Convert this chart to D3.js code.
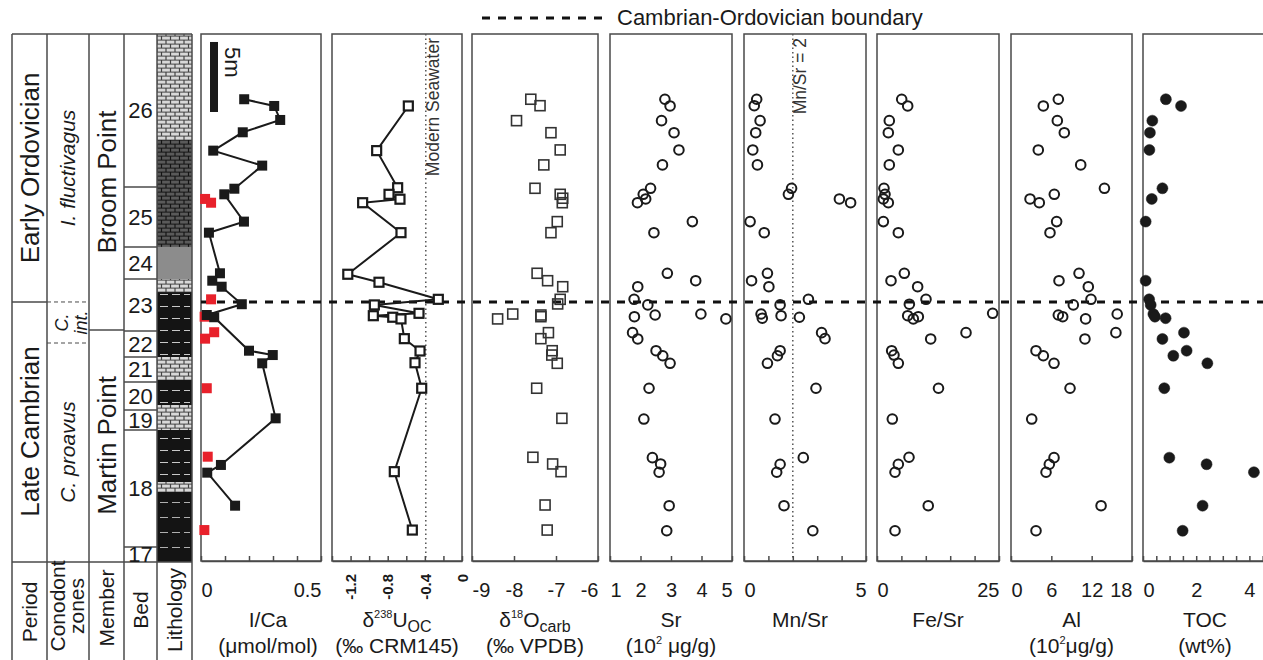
<!DOCTYPE html>
<html>
  <head>
    <meta charset="utf-8">
    <title></title>
    <style>
      body, html{
        margin: 0;
        background: #fff;
      }
      svg text{
        font-family: "Liberation Sans", Arial, sans-serif;
        fill: #1a1a1a;
      }
    </style>
  </head>
  <body>
    <svg id="chart" width="1263" height="660"></svg>
    <script src="https://cdnjs.cloudflare.com/ajax/libs/d3/7.8.5/d3.min.js" charset="utf-8"></script>
    <script>
      // heights are metres above the base of the logged section
      var sectionTop = 37.64
      var boundaryHeight = 18.5
      var scaleBarTop = 37.07

      var periodNames = ['Late Cambrian', 'Early Ordovician']
      var periodTops = [18.5, 37.64]
      var zoneNames = [['C. proavus'], ['C.', 'int.'], ['I. fluctivagus']]
      var zoneTops = [15.57, 18.5, 37.64]
      var memberNames = ['Martin Point', 'Broom Point']
      var memberTops = [16.5, 37.64]
      var bedNames = ['17', '18', '19', '20', '21', '22', '23', '24', '25', '26']
      var bedTops = [1.0, 9.36, 10.79, 12.79, 14.57, 16.43, 20.14, 22.43, 26.71, 37.64]
      var lithTypes = ['shale', 'lime', 'ribbon', 'lime', 'ribbon', 'lime', 'ribbon', 'lime', 'mud', 'darklime', 'lime']
      var lithTops = [4.93, 5.64, 9.36, 11.14, 12.93, 14.57, 19.21, 20.14, 22.43, 30.07, 37.64]

      var icaHeights = [32.98, 32.5, 31.5, 30.62, 29.31, 28.24, 26.59, 26.19, 24.24, 23.45, 20.55, 20.02, 19.59, 18.34, 17.57, 17.41, 15.02, 14.71, 14.12, 10.19, 6.86, 6.31, 3.95]
      var icaValues = [0.18, 0.305, 0.33, 0.174, 0.051, 0.255, 0.139, 0.097, 0.179, 0.033, 0.079, 0.047, 0.086, 0.17, 0.024, 0.055, 0.2, 0.299, 0.255, 0.311, 0.083, 0.026, 0.142]
      var icaRedHeights = [25.86, 25.59, 18.69, 17.45, 16.34, 15.88, 12.34, 7.45, 2.21]
      var icaRedValues = [0.017, 0.042, 0.042, 0.015, 0.055, 0.017, 0.024, 0.028, 0.014]

      var uHeights = [32.5, 29.31, 26.66, 26.19, 25.84, 25.59, 23.45, 20.48, 19.91, 18.69, 18.29, 17.69, 17.52, 17.41, 17.29, 15.88, 15.0, 14.16, 12.34, 6.38, 2.21]
      var uValues = [-0.578, -0.919, -0.693, -0.786, -0.668, -1.07, -0.657, -1.23, -0.894, -0.255, -0.944, -0.463, -0.955, -0.746, -0.657, -0.621, -0.452, -0.506, -0.434, -0.729, -0.535]
      var modernSeawater = -0.39

      var oHeights = [32.98, 32.52, 31.45, 30.59, 29.36, 28.29, 26.62, 26.19, 25.91, 25.59, 24.24, 23.45, 20.55, 20.02, 19.59, 18.69, 18.36, 17.64, 17.29, 17.57, 17.45, 16.31, 15.88, 15.02, 14.71, 14.12, 12.34, 10.19, 7.41, 6.93, 6.38, 4.0, 2.21]
      var oValues = [-7.60, -7.38, -7.94, -7.12, -6.90, -7.29, -7.50, -6.90, -6.84, -6.85, -6.97, -7.12, -7.45, -7.20, -6.84, -6.90, -6.96, -8.03, -8.39, -7.36, -7.36, -7.18, -7.36, -7.09, -7.10, -6.97, -7.46, -6.86, -7.55, -7.08, -6.88, -7.26, -7.21]

      var srHeights = [32.98, 32.5, 31.45, 30.59, 29.36, 28.29, 26.62, 26.19, 25.86, 25.59, 24.24, 23.45, 20.55, 20.02, 19.59, 18.69, 18.29, 17.45, 17.57, 17.64, 17.29, 16.31, 15.86, 15.02, 14.66, 14.12, 12.34, 10.14, 7.38, 6.93, 6.34, 3.95, 2.16]
      var srValues = [2.80, 2.97, 2.69, 3.10, 3.26, 2.72, 2.33, 2.09, 2.17, 1.90, 3.70, 2.44, 2.88, 3.81, 1.91, 1.79, 2.24, 1.80, 2.48, 3.98, 4.80, 1.74, 1.91, 2.51, 2.73, 2.97, 2.28, 2.11, 2.39, 2.66, 2.61, 2.94, 2.86]

      var mnHeights = [32.98, 32.52, 31.45, 30.59, 29.36, 28.29, 26.62, 26.19, 25.86, 25.59, 24.24, 23.45, 20.55, 20.02, 19.59, 18.69, 18.29, 17.64, 17.34, 17.52, 17.41, 16.31, 15.88, 15.02, 14.66, 14.12, 12.34, 10.14, 7.38, 6.91, 6.34, 3.95, 2.16]
      var mnValues = [0.52, 0.42, 0.66, 0.48, 0.36, 0.55, 1.95, 1.82, 3.91, 4.37, 0.25, 0.83, 0.96, 0.31, 1.02, 2.64, 1.48, 0.70, 0.75, 1.52, 2.27, 3.18, 3.32, 1.48, 1.37, 0.96, 2.95, 1.27, 2.43, 1.48, 1.34, 1.64, 2.82]
      var mnLimit = 2

      var feHeights = [32.98, 32.5, 31.45, 30.59, 29.36, 28.29, 26.62, 26.19, 25.86, 25.59, 24.24, 23.45, 20.55, 20.02, 19.59, 18.69, 18.34, 17.52, 17.29, 17.45, 17.69, 16.31, 15.86, 15.02, 14.71, 14.12, 12.34, 10.14, 7.41, 6.91, 6.34, 3.95, 2.16]
      var feValues = [5.06, 6.29, 2.52, 2.32, 4.37, 2.52, 1.43, 1.64, 1.30, 2.32, 1.30, 4.37, 5.60, 2.87, 8.33, 10.04, 6.63, 6.29, 7.44, 8.47, 23.7, 18.24, 11.0, 3.01, 3.48, 4.37, 12.6, 3.14, 6.56, 4.37, 3.69, 10.5, 3.69]

      var alHeights = [32.98, 32.5, 31.45, 30.59, 29.36, 28.29, 26.62, 26.19, 25.86, 25.59, 24.24, 23.45, 20.55, 20.02, 19.59, 18.69, 18.29, 17.57, 17.45, 17.29, 17.64, 16.31, 15.86, 15.02, 14.66, 14.12, 12.34, 10.14, 7.38, 6.91, 6.34, 3.95, 2.16]
      var alValues = [7.04, 4.81, 6.89, 7.93, 4.06, 10.37, 13.9, 6.44, 2.83, 4.21, 6.79, 5.80, 10.12, 7.14, 11.5, 11.9, 9.27, 7.04, 7.69, 11.1, 15.8, 15.6, 11.0, 3.72, 4.81, 6.40, 8.78, 3.08, 6.40, 5.70, 5.21, 13.4, 3.72]

      var tocHeights = [32.98, 32.5, 31.45, 30.59, 29.36, 26.62, 25.86, 24.24, 20.02, 18.69, 18.29, 17.64, 17.45, 17.34, 16.31, 15.86, 15.02, 14.66, 14.12, 12.34, 7.38, 6.91, 6.34, 3.95, 2.16]
      var tocValues = [0.86, 1.43, 0.35, 0.26, 0.24, 0.73, 0.33, 0.10, 0.10, 0.23, 0.29, 0.39, 0.45, 0.85, 1.54, 0.73, 1.64, 1.14, 2.42, 0.80, 0.99, 2.39, 4.17, 2.24, 1.49]

      var panels = [
        {kind: 'ica', x0: 201, x1: 321, domain: [0, 0.5], step: 0.1, labels: [0, 0.5],
          title: [[['I/Ca']], [['(μmol/mol)']]], titleX: 268},
        {kind: 'u', x0: 332, x1: 462, domain: [-1.4, 0], step: 0.2, labels: [-1.2, -0.8, -0.4, 0],
          h: uHeights, v: uValues, title: [[['δ'], ['238', 'sup'], ['U'], ['OC', 'sub']], [['(‰ CRM145)']]]},
        {kind: 'osq', x0: 472, x1: 598, domain: [-9, -6], step: 1, labels: [-9, -8, -7, -6],
          h: oHeights, v: oValues, title: [[['δ'], ['18', 'sup'], ['O'], ['carb', 'sub']], [['(‰ VPDB)']]]},
        {kind: 'circle', x0: 610, x1: 732, domain: [1, 5], step: 1, labels: [1, 2, 3, 4, 5],
          h: srHeights, v: srValues, title: [[['Sr']], [['(10'], ['2', 'sup'], [' μg/g)']]]},
        {kind: 'circle', x0: 744, x1: 866, domain: [0, 5], step: 1, labels: [0, 5],
          h: mnHeights, v: mnValues, title: [[['Mn/Sr']]], titleX: 800},
        {kind: 'circle', x0: 877, x1: 999, domain: [0, 25], step: 5, labels: [0, 25],
          h: feHeights, v: feValues, title: [[['Fe/Sr']]]},
        {kind: 'circle', x0: 1011, x1: 1132, domain: [0, 18], step: 6, labels: [0, 6, 12, 18],
          h: alHeights, v: alValues, title: [[['Al']], [['(10'], ['2', 'sup'], ['μg/g)']]]},
        {kind: 'dot', x0: 1143, x1: 1276, domain: [0, 5], step: 0.5, labels: [0, 2, 4], tickMax: 4.5,
          h: tocHeights, v: tocValues, title: [[['TOC']], [['(wt%)']]], titleX: 1205}
      ]

      var svg = d3.select('#chart')
      var axisY = 561, topY = 34, headY = 562
      var y = d3.scaleLinear().domain([0, sectionTop]).range([axisY, topY])
      var ink = '#1a1a1a', frame = '#4a4a4a'

      // lithology fills
      var defs = svg.append('defs')
      function pattern(id, w, h, bg, rects, fill){
        var p = defs.append('pattern').attr('id', id).attr('patternUnits', 'userSpaceOnUse')
          .attr('x', 157).attr('width', w).attr('height', h)
        p.append('rect').attr('width', w).attr('height', h).attr('fill', bg)
        rects.forEach(function(r){
          p.append('rect').attr('x', r[0]).attr('y', r[1]).attr('width', r[2]).attr('height', r[3]).attr('fill', fill)
        })
      }
      var bricks = [[0.6, 0.6, 7.8, 3], [9.6, 0.6, 7.8, 3], [-3.9, 4.6, 7.8, 3], [5.1, 4.6, 7.8, 3], [14.1, 4.6, 7.8, 3]]
      pattern('lime', 18, 8, '#444', bricks, '#d9d9d9')
      pattern('darklime', 18, 8, '#141414', bricks, '#5a5a5a')
      pattern('ribbon', 35, 12, '#141414', [[3, 6, 8, 1], [15, 6, 8, 1], [27, 6, 6, 1]], '#c8c8c8')
      pattern('shale', 35, 15, '#141414', [[3, 7, 8, 1], [15, 7, 8, 1], [27, 7, 6, 1]], '#b0b0b0')
      defs.append('clipPath').attr('id', 'bedclip').append('rect')
        .attr('x', 124).attr('y', topY).attr('width', 33).attr('height', headY - topY)

      function vtext(parent, x, yy, txt, size, italic){
        return parent.append('text')
          .attr('transform', 'translate(' + x + ',' + yy + ') rotate(-90)')
          .attr('text-anchor', 'middle').attr('dy', '0.35em')
          .style('font-size', size + 'px').style('font-style', italic ? 'italic' : null)
          .text(txt)
      }
      function below(tops, i){ return i ? tops[i - 1] : 0 }

      // stratigraphic columns
      var strat = svg.append('g')
      strat.selectAll('rect.lith').data(lithTypes).enter().append('rect').attr('class', 'lith')
        .attr('x', 157).attr('width', 35)
        .attr('y', function(d, i){ return y(lithTops[i]) })
        .attr('height', function(d, i){ return y(below(lithTops, i)) - y(lithTops[i]) + (i ? 0 : 1) })
        .attr('fill', function(d){ return d === 'mud' ? '#8c8c8c' : 'url(#' + d + ')' })

      var lines = strat.append('g').attr('stroke', frame).attr('stroke-width', 1.5)
      ;[12, 47, 89, 124, 157, 192].forEach(function(x){
        lines.append('line').attr('x1', x).attr('x2', x).attr('y1', topY).attr('y2', 660)
      })
      ;[topY, headY].forEach(function(yy){
        lines.append('line').attr('x1', 12).attr('x2', 192).attr('y1', yy).attr('y2', yy)
      })
      lines.append('line').attr('x1', 12).attr('x2', 47).attr('y1', y(periodTops[0])).attr('y2', y(periodTops[0]))
      lines.append('line').attr('x1', 89).attr('x2', 124).attr('y1', y(memberTops[0])).attr('y2', y(memberTops[0]))
      zoneTops.slice(0, -1).forEach(function(t){
        lines.append('line').attr('x1', 47).attr('x2', 89).attr('y1', y(t)).attr('y2', y(t))
          .attr('stroke-width', 1).attr('stroke-dasharray', '4,3')
      })
      bedTops.slice(0, -1).forEach(function(t){
        lines.append('line').attr('x1', 124).attr('x2', 157).attr('y1', y(t)).attr('y2', y(t))
      })

      periodNames.forEach(function(n, i){
        vtext(strat, 29.5, (y(periodTops[i]) + y(below(periodTops, i))) / 2, n, 26)
      })
      zoneNames.forEach(function(n, i){
        var mid = (y(zoneTops[i]) + y(below(zoneTops, i))) / 2
        n.forEach(function(part, j){
          vtext(strat, n.length > 1 ? 62 + j * 19 : 68, mid, part, n.length > 1 ? 18 : 21, true)
        })
      })
      memberNames.forEach(function(n, i){
        vtext(strat, 106.5, (y(memberTops[i]) + y(below(memberTops, i))) / 2, n, 26)
      })
      strat.append('g').attr('clip-path', 'url(#bedclip)')
        .selectAll('text').data(bedNames).enter().append('text')
        .attr('x', 140.5).attr('text-anchor', 'middle').attr('dy', '0.35em')
        .attr('y', function(d, i){ return (y(bedTops[i]) + y(below(bedTops, i))) / 2 })
        .style('font-size', '22px').text(function(d){ return d })

      vtext(strat, 29.5, 612, 'Period', 21)
      vtext(strat, 58, 606, 'Conodont', 21)
      vtext(strat, 77, 606, 'zones', 21)
      vtext(strat, 106.5, 608, 'Member', 21)
      vtext(strat, 140.5, 610, 'Bed', 21)
      vtext(strat, 175, 610, 'Lithology', 21)

      function richText(sel, segs){
        var shift = 0
        segs.forEach(function(s){
          var target = s[1] === 'sup' ? -9 : s[1] === 'sub' ? 5 : 0
          var t = sel.append('tspan').attr('dy', target - shift).text(s[0])
          if(s[1]) t.style('font-size', s[1] === 'sup' ? '11px' : '16px')
          shift = target
        })
      }

      // geochemistry panels
      panels.forEach(function(p){
        var x = d3.scaleLinear().domain(p.domain).range([p.x0, p.x1])
        var g = svg.append('g')
        g.append('rect').attr('x', p.x0).attr('y', topY).attr('width', p.x1 - p.x0).attr('height', axisY - topY)
          .attr('fill', 'none').attr('stroke', frame).attr('stroke-width', 1.5)

        if(p.kind === 'u'){
          g.append('line').attr('x1', x(modernSeawater)).attr('x2', x(modernSeawater)).attr('y1', topY).attr('y2', axisY)
            .attr('stroke', '#555').attr('stroke-width', 1.5).attr('stroke-dasharray', '1.5,3')
          g.append('text').attr('transform', 'translate(' + (x(modernSeawater) + 13) + ',' + 38 + ') rotate(-90)')
            .attr('text-anchor', 'end').style('font-size', '17.5px').style('fill', '#333').text('Modern Seawater')
        }
        if(p.h === mnHeights){
          g.append('line').attr('x1', x(mnLimit)).attr('x2', x(mnLimit)).attr('y1', topY).attr('y2', axisY)
            .attr('stroke', '#555').attr('stroke-width', 1.5).attr('stroke-dasharray', '1.5,3')
          g.append('text').attr('transform', 'translate(' + (x(mnLimit) + 13) + ',' + 38 + ') rotate(-90)')
            .attr('text-anchor', 'end').style('font-size', '17.5px').style('fill', '#333').text('Mn/Sr = 2')
        }

        var ticks = d3.range(p.domain[0], (p.tickMax === undefined ? p.domain[1] : p.tickMax) + p.step / 2, p.step)
        var tg = g.append('g').attr('transform', 'translate(0,' + axisY + ')').attr('color', frame)
          .call(d3.axisBottom(x).tickValues(ticks).tickSizeInner(-5).tickSizeOuter(0).tickFormat(''))
        tg.selectAll('line, path').attr('stroke-width', 1.5)

        var lg = g.append('g').attr('transform', 'translate(0,' + axisY + ')').attr('color', ink)
          .call(d3.axisBottom(x).tickValues(p.labels).tickSize(0).tickPadding(22).tickFormat(String))
        lg.select('.domain').remove()
        if(p.kind === 'u'){
          lg.selectAll('text').attr('transform', 'rotate(-90)').attr('x', -13).attr('y', 0)
            .attr('dy', '0.35em').attr('text-anchor', 'end')
            .style('font-size', '15px').style('font-weight', 'bold')
        } else {
          lg.selectAll('text').style('font-size', '20px')
            .attr('text-anchor', function(d){
              return d === p.domain[0] ? 'start' : d === p.domain[1] ? 'end' : 'middle'
            })
        }

        var tx = p.titleX || (p.x0 + p.x1) / 2
        p.title.forEach(function(line, i){
          var t = g.append('text').attr('x', tx).attr('y', 627 + i * 26).attr('text-anchor', 'middle')
            .style('font-size', '21px')
          richText(t, line)
        })
        p.x = x
      })

      // Cambrian-Ordovician boundary
      svg.append('line').attr('x1', 201).attr('x2', 1263).attr('y1', y(boundaryHeight)).attr('y2', y(boundaryHeight))
        .attr('stroke', '#111').attr('stroke-width', 3).attr('stroke-dasharray', '8,8')
      svg.append('line').attr('x1', 482).attr('x2', 602).attr('y1', 18).attr('y2', 18)
        .attr('stroke', '#111').attr('stroke-width', 3).attr('stroke-dasharray', '8,8')
      svg.append('text').attr('x', 617).attr('y', 25).style('font-size', '22px').text('Cambrian-Ordovician boundary')

      // scale bar
      svg.append('rect').attr('x', 210).attr('width', 8)
        .attr('y', y(scaleBarTop)).attr('height', y(0) - y(5)).attr('fill', ink)
      svg.append('text').attr('transform', 'translate(225,' + (y(scaleBarTop) + 5) + ') rotate(90)')
        .style('font-size', '22px').text('5m')

      // data marks
      panels.forEach(function(p){
        var x = p.x, g = svg.append('g')
        if(p.kind === 'ica'){
          g.selectAll('rect.red').data(icaRedValues).enter().append('rect')
            .attr('x', function(d){ return x(d) - 5 }).attr('y', function(d, i){ return y(icaRedHeights[i]) - 5 })
            .attr('width', 10).attr('height', 10).attr('fill', '#e8212b')
          g.append('path').datum(icaValues)
            .attr('d', d3.line().x(function(d){ return x(d) }).y(function(d, i){ return y(icaHeights[i]) }))
            .attr('fill', 'none').attr('stroke', ink).attr('stroke-width', 2)
          g.selectAll('rect.blk').data(icaValues).enter().append('rect')
            .attr('x', function(d){ return x(d) - 5 }).attr('y', function(d, i){ return y(icaHeights[i]) - 5 })
            .attr('width', 10).attr('height', 10).attr('fill', ink)
        } else if(p.kind === 'u'){
          g.append('path').datum(p.v)
            .attr('d', d3.line().x(function(d){ return x(d) }).y(function(d, i){ return y(p.h[i]) }))
            .attr('fill', 'none').attr('stroke', ink).attr('stroke-width', 2)
          g.selectAll('rect').data(p.v).enter().append('rect')
            .attr('x', function(d){ return x(d) - 4.5 }).attr('y', function(d, i){ return y(p.h[i]) - 4.5 })
            .attr('width', 9).attr('height', 9).attr('fill', '#fff').attr('stroke', ink).attr('stroke-width', 2.2)
        } else if(p.kind === 'osq'){
          g.selectAll('rect').data(p.v).enter().append('rect')
            .attr('x', function(d){ return x(d) - 5 }).attr('y', function(d, i){ return y(p.h[i]) - 5 })
            .attr('width', 10).attr('height', 10).attr('fill', 'none').attr('stroke', '#333').attr('stroke-width', 1.6)
        } else {
          g.selectAll('circle').data(p.v).enter().append('circle')
            .attr('cx', function(d){ return x(d) }).attr('cy', function(d, i){ return y(p.h[i]) })
            .attr('r', p.kind === 'dot' ? 5.5 : 4.8)
            .attr('fill', p.kind === 'dot' ? ink : 'none')
            .attr('stroke', ink).attr('stroke-width', p.kind === 'dot' ? 0.5 : 2)
        }
      })
    </script>
  </body>
</html>
